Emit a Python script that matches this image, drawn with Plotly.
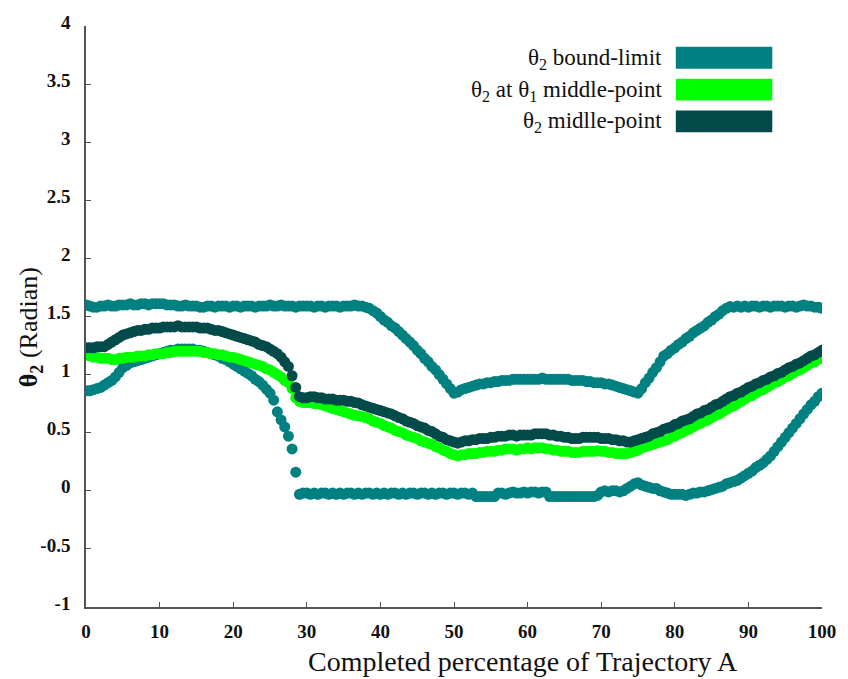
import plotly.graph_objects as go

# ---- data (x = completed percentage, sampled every 0.5 %) ----
x_pct = [i / 2 for i in range(201)]

bound_upper = [
    1.60, 1.59, 1.58, 1.58, 1.59, 1.59, 1.60, 1.59, 1.59, 1.60,
    1.60, 1.60, 1.61, 1.60, 1.60, 1.61, 1.61, 1.60, 1.61, 1.61,
    1.61, 1.61, 1.60, 1.60, 1.60, 1.59, 1.59, 1.60, 1.59, 1.59,
    1.59, 1.58, 1.58, 1.59, 1.59, 1.58, 1.59, 1.59, 1.59, 1.58,
    1.59, 1.59, 1.58, 1.59, 1.59, 1.59, 1.58, 1.59, 1.59, 1.59,
    1.60, 1.59, 1.59, 1.60, 1.59, 1.59, 1.59, 1.58, 1.59, 1.59,
    1.59, 1.59, 1.58, 1.59, 1.59, 1.58, 1.59, 1.59, 1.59, 1.58,
    1.59, 1.59, 1.59, 1.60, 1.59, 1.59, 1.58, 1.57, 1.55, 1.53,
    1.50, 1.47, 1.45, 1.42, 1.40, 1.37, 1.34, 1.31, 1.28, 1.25,
    1.21, 1.18, 1.14, 1.11, 1.07, 1.04, 1.00, 0.96, 0.92, 0.88,
    0.84, 0.85, 0.87, 0.88, 0.89, 0.90, 0.91, 0.92, 0.92, 0.93,
    0.93, 0.94, 0.94, 0.95, 0.95, 0.95, 0.96, 0.96, 0.96, 0.96,
    0.96, 0.96, 0.96, 0.96, 0.97, 0.96, 0.96, 0.96, 0.96, 0.96,
    0.96, 0.96, 0.95, 0.95, 0.95, 0.95, 0.94, 0.94, 0.93, 0.93,
    0.93, 0.92, 0.92, 0.91, 0.90, 0.89, 0.88, 0.87, 0.86, 0.85,
    0.84, 0.88, 0.93, 0.97, 1.02, 1.06, 1.11, 1.16, 1.18, 1.21,
    1.23, 1.26, 1.28, 1.31, 1.33, 1.36, 1.38, 1.40, 1.42, 1.45,
    1.47, 1.50, 1.52, 1.55, 1.57, 1.585, 1.58, 1.59, 1.58, 1.59,
    1.58, 1.59, 1.59, 1.58, 1.59, 1.59, 1.58, 1.59, 1.59, 1.59,
    1.58, 1.59, 1.59, 1.58, 1.59, 1.60, 1.59, 1.59, 1.58, 1.58,
    1.57,
]

bound_lower = [
    0.86, 0.86, 0.87, 0.88, 0.89, 0.91, 0.93, 0.95, 0.98, 1.02,
    1.06, 1.08, 1.10, 1.11, 1.12, 1.13, 1.14, 1.15, 1.16, 1.17,
    1.18, 1.19, 1.20, 1.21, 1.21, 1.22, 1.22, 1.22, 1.22, 1.22,
    1.21, 1.21, 1.20, 1.19, 1.18, 1.17, 1.16, 1.14, 1.13, 1.11,
    1.09, 1.07, 1.05, 1.03, 1.01, 0.99, 0.96, 0.94, 0.91, 0.875,
    0.84, 0.78, 0.68, 0.61, 0.55, 0.47, 0.36, 0.16, -0.03, -0.02,
    -0.02, -0.03, -0.02, -0.03, -0.02, -0.02, -0.03, -0.02, -0.03, -0.02,
    -0.03, -0.02, -0.02, -0.03, -0.02, -0.03, -0.02, -0.02, -0.03, -0.02,
    -0.03, -0.02, -0.03, -0.02, -0.02, -0.03, -0.02, -0.03, -0.02, -0.02,
    -0.03, -0.02, -0.02, -0.03, -0.02, -0.03, -0.02, -0.02, -0.03, -0.02,
    -0.02, -0.03, -0.02, -0.02, -0.03, -0.02, -0.05, -0.05, -0.05, -0.05,
    -0.05, -0.05, -0.02, -0.02, -0.03, -0.02, -0.01, -0.02, -0.02, -0.01,
    -0.02, -0.01, -0.01, -0.02, -0.01, -0.01, -0.05, -0.05, -0.05, -0.05,
    -0.05, -0.05, -0.05, -0.05, -0.05, -0.05, -0.05, -0.05, -0.05, -0.04,
    -0.01, 0.00, -0.01, 0.00, 0.00, -0.01, 0.00, 0.02, 0.04, 0.06,
    0.07, 0.05, 0.04, 0.03, 0.02, 0.02, 0.00, -0.01, -0.02, -0.03,
    -0.03, -0.03, -0.03, -0.04, -0.03, -0.02, -0.02, -0.01, -0.01, 0.00,
    0.01, 0.02, 0.03, 0.04, 0.06, 0.07, 0.08, 0.09, 0.11, 0.13,
    0.15, 0.17, 0.20, 0.22, 0.24, 0.27, 0.30, 0.34, 0.38, 0.42,
    0.46, 0.50, 0.54, 0.58, 0.62, 0.66, 0.70, 0.74, 0.77, 0.81,
    0.84,
]

theta2_at_theta1_mid = [
    1.17, 1.16, 1.15, 1.15, 1.14, 1.14, 1.14, 1.13, 1.13, 1.14,
    1.14, 1.15, 1.15, 1.15, 1.16, 1.16, 1.16, 1.17, 1.17, 1.18,
    1.18, 1.18, 1.19, 1.19, 1.20, 1.20, 1.20, 1.20, 1.20, 1.20,
    1.20, 1.20, 1.19, 1.19, 1.18, 1.18, 1.17, 1.17, 1.16, 1.15,
    1.15, 1.14, 1.13, 1.12, 1.11, 1.10, 1.09, 1.08, 1.07, 1.05,
    1.04, 1.02, 1.00, 0.98, 0.95, 0.93, 0.88, 0.80, 0.77, 0.76,
    0.76, 0.76, 0.75, 0.75, 0.74, 0.73, 0.72, 0.71, 0.70, 0.69,
    0.68, 0.67, 0.66, 0.65, 0.645, 0.64, 0.63, 0.62, 0.60, 0.59,
    0.58, 0.56, 0.55, 0.54, 0.52, 0.51, 0.50, 0.48, 0.47, 0.46,
    0.45, 0.43, 0.42, 0.41, 0.40, 0.38, 0.37, 0.35, 0.34, 0.32,
    0.31, 0.30, 0.31, 0.31, 0.32, 0.32, 0.32, 0.33, 0.33, 0.34,
    0.34, 0.34, 0.35, 0.35, 0.36, 0.36, 0.36, 0.35, 0.36, 0.36,
    0.37, 0.36, 0.37, 0.37, 0.37, 0.36, 0.36, 0.35, 0.35, 0.34,
    0.34, 0.34, 0.33, 0.33, 0.33, 0.34, 0.34, 0.34, 0.34, 0.345,
    0.34, 0.34, 0.33, 0.33, 0.32, 0.32, 0.32, 0.32, 0.33, 0.34,
    0.35, 0.37, 0.38, 0.39, 0.40, 0.41, 0.42, 0.43, 0.44, 0.46,
    0.47, 0.49, 0.50, 0.52, 0.53, 0.55, 0.57, 0.58, 0.60, 0.61,
    0.63, 0.65, 0.66, 0.68, 0.70, 0.72, 0.73, 0.75, 0.77, 0.79,
    0.81, 0.82, 0.84, 0.86, 0.87, 0.89, 0.91, 0.93, 0.94, 0.96,
    0.98, 0.99, 1.01, 1.03, 1.04, 1.06, 1.08, 1.10, 1.11, 1.13,
    1.15,
]

theta2_middle = [
    1.23, 1.23, 1.23, 1.24, 1.24, 1.24, 1.26, 1.28, 1.30, 1.32,
    1.34, 1.35, 1.36, 1.37, 1.38, 1.38, 1.39, 1.39, 1.40, 1.40,
    1.40, 1.41, 1.41, 1.41, 1.41, 1.42, 1.41, 1.41, 1.41, 1.41,
    1.41, 1.40, 1.40, 1.40, 1.39, 1.38, 1.38, 1.37, 1.36, 1.35,
    1.34, 1.33, 1.32, 1.31, 1.30, 1.29, 1.28, 1.26, 1.25, 1.24,
    1.22, 1.20, 1.18, 1.15, 1.11, 1.07, 0.99, 0.89, 0.81, 0.80,
    0.80, 0.81, 0.81, 0.80, 0.80, 0.79, 0.79, 0.79, 0.78, 0.78,
    0.78, 0.77, 0.77, 0.76, 0.755, 0.74, 0.73, 0.72, 0.71, 0.70,
    0.69, 0.68, 0.67, 0.66, 0.645, 0.63, 0.62, 0.60, 0.59, 0.58,
    0.56, 0.55, 0.54, 0.52, 0.51, 0.49, 0.47, 0.46, 0.44, 0.43,
    0.42, 0.41, 0.42, 0.43, 0.43, 0.44, 0.44, 0.45, 0.45, 0.45,
    0.46, 0.46, 0.47, 0.47, 0.47, 0.48, 0.48, 0.47, 0.48, 0.48,
    0.48, 0.48, 0.49, 0.49, 0.49, 0.49, 0.48, 0.48, 0.47, 0.47,
    0.46, 0.46, 0.45, 0.45, 0.45, 0.46, 0.46, 0.46, 0.46, 0.46,
    0.45, 0.45, 0.45, 0.44, 0.44, 0.43, 0.43, 0.42, 0.42, 0.43,
    0.44, 0.45, 0.46, 0.47, 0.49, 0.50, 0.51, 0.53, 0.54, 0.55,
    0.57, 0.58, 0.60, 0.61, 0.62, 0.64, 0.66, 0.67, 0.69, 0.70,
    0.72, 0.74, 0.75, 0.77, 0.79, 0.81, 0.82, 0.84, 0.85, 0.87,
    0.89, 0.90, 0.92, 0.93, 0.95, 0.96, 0.98, 0.99, 1.01, 1.02,
    1.04, 1.06, 1.07, 1.09, 1.10, 1.12, 1.14, 1.16, 1.17, 1.19,
    1.21,
]

x_tick_vals = [0, 10, 20, 30, 40, 50, 60, 70, 80, 90, 100]
x_tick_text = ["0", "10", "20", "30", "40", "50", "60", "70", "80", "90", "100"]
y_tick_vals = [-1, -0.5, 0, 0.5, 1, 1.5, 2, 2.5, 3, 3.5, 4]
y_tick_text = ["-1", "-0.5", "0", "0.5", "1", "1.5", "2", "2.5", "3", "3.5", "4"]

legend_labels = [
    "θ<sub>2</sub> bound-limit",
    "θ<sub>2</sub> at θ<sub>1</sub> middle-point",
    "θ<sub>2</sub> midlle-point",
]

TEAL = "#008080"
GREEN = "#00FF00"
DARK = "#034B4A"
legend_colors = [TEAL, GREEN, DARK]

SERIF = "Liberation Serif"

for arr in (bound_upper, bound_lower, theta2_at_theta1_mid, theta2_middle):
    assert len(arr) == len(x_pct), len(arr)

MS = 11
fig = go.Figure()
for yvals, col in ((bound_upper, TEAL), (bound_lower, TEAL),
                   (theta2_at_theta1_mid, GREEN), (theta2_middle, DARK)):
    fig.add_trace(go.Scatter(x=x_pct, y=yvals, mode="markers",
                             marker=dict(size=MS, color=col, line=dict(width=0)),
                             showlegend=False, hoverinfo="x+y"))

# --- plot area geometry (pixels) ---
W, H = 848, 679
L, R, T, B = 86, 22, 22, 72
pw, ph = W - L - R, H - T - B

def px2paper_x(px):
    return (px - L) / pw

def px2paper_y(py):
    return (H - B - py) / ph

# manual legend (text left of wide colour boxes)
row_tops = [43, 75, 107]
row_h = 22
for lab, col, top in zip(legend_labels, legend_colors, row_tops):
    fig.add_shape(type="rect", xref="paper", yref="paper",
                  x0=px2paper_x(679), x1=px2paper_x(776),
                  y0=px2paper_y(top + row_h), y1=px2paper_y(top),
                  fillcolor=col, line=dict(width=0))
    fig.add_annotation(xref="paper", yref="paper",
                       x=px2paper_x(667), y=px2paper_y(top + row_h / 2 + 1),
                       xanchor="right", yanchor="middle", showarrow=False,
                       text=lab,
                       font=dict(family=SERIF, size=23, color="#111111"))

# axis titles as annotations
fig.add_annotation(xref="paper", yref="paper",
                   x=px2paper_x(525), y=px2paper_y(662),
                   xanchor="center", yanchor="middle", showarrow=False,
                   text="Completed percentage of Trajectory A",
                   font=dict(family=SERIF, size=28, color="#111111"))
fig.add_annotation(xref="paper", yref="paper",
                   x=px2paper_x(30), y=px2paper_y(325),
                   xanchor="center", yanchor="middle", showarrow=False,
                   textangle=-90,
                   text="<b>θ<sub>2</sub></b> (Radian)",
                   font=dict(family=SERIF, size=26, color="#111111"))

axis_common = dict(showline=True, linecolor="#555555", linewidth=1.5,
                   ticks="inside", ticklen=5, tickwidth=1.2, tickcolor="#555555",
                   showgrid=False, zeroline=False, mirror=False,
                   tickfont=dict(family=SERIF, size=19, color="#111111"))

fig.update_xaxes(range=[0, 100], tickmode="array", tickvals=x_tick_vals,
                 ticktext=["<b>%s</b>" % t for t in x_tick_text],
                 ticklabelstandoff=6, **axis_common)
fig.update_yaxes(range=[-1, 4], tickmode="array", tickvals=y_tick_vals,
                 ticktext=["<b>%s</b>" % t for t in y_tick_text],
                 ticklabelstandoff=10, ticklabelshift=-4, **axis_common)

fig.update_layout(width=W, height=H,
                  margin=dict(l=L, r=R, t=T, b=B, pad=0),
                  plot_bgcolor="white", paper_bgcolor="white",
                  showlegend=False)

fig.write_html("out.html")
